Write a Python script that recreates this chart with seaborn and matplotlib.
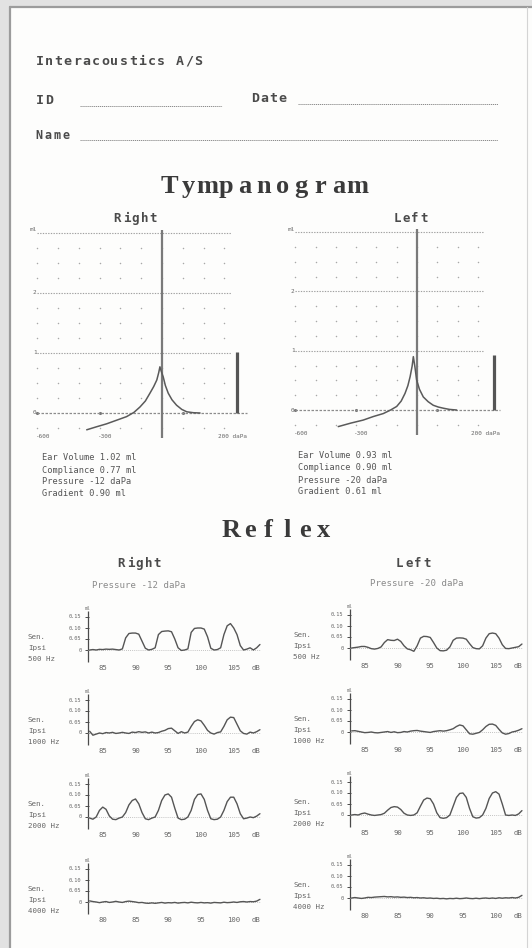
import numpy as np
import matplotlib.pyplot as plt
from matplotlib.patches import Rectangle
from matplotlib.lines import Line2D
import seaborn as sns

sns.set_style("white")
plt.rcParams['font.family'] = ['DejaVu Sans Mono', 'DejaVu Sans']

# ---------------- data ----------------
# tympanogram curves: pressure (daPa) / compliance (ml)
tymp_right_p = [-362, -315, -266, -218, -170, -135, -106, -80, -58, -40, -25, -16, -10, -4, 6, 16, 30, 48, 70, 95, 119, 150, 183]
tymp_right_c = [-0.28, -0.23, -0.18, -0.12, -0.06, 0.01, 0.10, 0.20, 0.33, 0.44, 0.55, 0.67, 0.77, 0.70, 0.60, 0.46, 0.33, 0.22, 0.13, 0.06, 0.02, 0.005, 0.0]
tymp_left_p = [-388, -325, -265, -215, -166, -130, -100, -78, -59, -45, -34, -24, -18, -10, -2, 12, 31, 55, 80, 105, 130, 160, 195]
tymp_left_c = [-0.28, -0.22, -0.17, -0.11, -0.06, 0.0, 0.06, 0.15, 0.28, 0.41, 0.56, 0.74, 0.90, 0.72, 0.51, 0.35, 0.22, 0.14, 0.08, 0.05, 0.03, 0.01, 0.0]
ear_volume = [1.02, 0.93]          # right, left (ml)

info_right = ["Ear Volume 1.02 ml", "Compliance 0.77 ml", "Pressure -12 daPa", "Gradient 0.90 ml"]
info_left = ["Ear Volume 0.93 ml", "Compliance 0.90 ml", "Pressure -20 daPa", "Gradient 0.61 ml"]
reflex_pressure = ["Pressure -12 daPa", "Pressure -20 daPa"]

tymp_xlabels = ["-600", "-300", "200 daPa"]
tymp_ylabels = ["0", "1", "2", "ml"]

freqs = ["500 Hz", "1000 Hz", "2000 Hz", "4000 Hz"]
levels_low = ["85", "90", "95", "100", "105", "dB"]
levels_4k = ["80", "85", "90", "95", "100", "dB"]
reflex_yticks = [0, 0.05, 0.10, 0.15]
reflex_yticklabels = ["0", "0.05", "0.10", "0.15"]

# reflex traces (ml), sampled every 0.1 of a stimulus slot from 0.1 to 5.3
r500 = [0.0, 0.002, 0.0, 0.003, 0.002, 0.004, 0.003, 0.004, 0.002, 0.0,
        0.005, 0.055, 0.075, 0.077, 0.077, 0.072, 0.04, 0.008, 0.0, 0.003,
        0.01, 0.07, 0.084, 0.086, 0.087, 0.083, 0.05, 0.01, -0.002, 0.0,
        0.005, 0.08, 0.098, 0.1, 0.1, 0.095, 0.06, 0.008, 0.0, 0.002,
        0.01, 0.07, 0.11, 0.12, 0.1, 0.07, 0.02, 0.0, 0.004, 0.01,
        0.0, 0.01, 0.025]
r1000 = [0.008, -0.01, -0.005, 0.0, -0.003, 0.002, 0.0, 0.003, -0.002, 0.0,
         0.003, 0.0, -0.002, 0.004, 0.002, 0.006, 0.003, 0.005, 0.0, 0.004,
         0.0, 0.002, 0.008, 0.012, 0.02, 0.022, 0.01, -0.002, 0.006, 0.0,
         0.004, 0.03, 0.052, 0.06, 0.055, 0.035, 0.012, 0.0, -0.005, 0.002,
         0.005, 0.03, 0.06, 0.072, 0.07, 0.04, 0.01, -0.002, -0.005, 0.004,
         0.0, 0.006, 0.015]
r2000 = [-0.005, -0.01, 0.0, 0.03, 0.045, 0.035, 0.005, -0.01, -0.012, -0.005,
         0.0, 0.02, 0.055, 0.075, 0.082, 0.06, 0.02, -0.008, -0.012, -0.005,
         0.0, 0.03, 0.075, 0.1, 0.105, 0.09, 0.04, -0.005, -0.012, -0.01,
         0.0, 0.03, 0.08, 0.102, 0.105, 0.08, 0.03, -0.008, -0.012, -0.01,
         0.0, 0.03, 0.07, 0.09, 0.09, 0.06, 0.015, -0.008, -0.005, 0.0,
         -0.003, 0.004, 0.015]
r4000 = [0.005, 0.002, 0.0, -0.003, 0.0, 0.002, -0.002, 0.0, 0.003, 0.0,
         -0.002, 0.002, 0.004, 0.002, 0.0, -0.003, -0.002, -0.005, -0.006, -0.004,
         -0.006, -0.004, -0.002, -0.005, -0.003, -0.004, -0.002, -0.005, -0.003, -0.002,
         -0.004, -0.001, -0.003, -0.004, -0.002, -0.004, -0.003, -0.005, -0.002, -0.003,
         -0.004, -0.001, -0.003, -0.002, 0.0, -0.002, 0.001, 0.002, 0.0, 0.002,
         0.001, 0.004, 0.012]
l500 = [0.0, 0.002, 0.004, 0.007, 0.007, 0.003, -0.003, -0.005, -0.002, 0.005,
        0.025, 0.038, 0.035, 0.034, 0.04, 0.03, 0.01, -0.004, -0.008, -0.015,
        0.01, 0.045, 0.053, 0.052, 0.048, 0.025, 0.0, -0.012, -0.013, -0.01,
        0.005, 0.035, 0.045, 0.046, 0.045, 0.04, 0.02, 0.002, -0.003, -0.004,
        0.01, 0.045, 0.065, 0.068, 0.065, 0.045, 0.015, -0.002, -0.003, 0.0,
        0.003, 0.006, 0.018]
l1000 = [0.005, 0.006, 0.003, 0.0, -0.003, -0.002, 0.0, -0.003, -0.004, -0.002,
         0.0, 0.002, -0.002, 0.001, -0.003, -0.002, 0.002, 0.0, 0.004, 0.006,
         0.007, 0.004, 0.002, 0.0, -0.002, 0.002, 0.004, 0.006, 0.004, 0.006,
         0.01, 0.015, 0.025, 0.032, 0.028, 0.01, -0.008, -0.01, -0.006, -0.002,
         0.01, 0.025, 0.035, 0.036, 0.03, 0.012, -0.004, -0.01, -0.007, 0.0,
         0.003, 0.008, 0.015]
l2000 = [0.0, 0.002, 0.0, 0.006, 0.009, 0.004, 0.0, -0.002, 0.0, 0.002,
         0.008, 0.022, 0.034, 0.038, 0.036, 0.025, 0.008, 0.0, -0.002, 0.0,
         0.01, 0.04, 0.068, 0.077, 0.074, 0.05, 0.01, -0.012, -0.015, -0.012,
         0.0, 0.04, 0.08, 0.098, 0.1, 0.08, 0.03, -0.008, -0.014, -0.012,
         0.0, 0.03, 0.075, 0.1, 0.106, 0.095, 0.05, 0.0, -0.002, 0.0,
         -0.002, 0.005, 0.02]
l4000 = [0.0, 0.002, 0.0, -0.002, 0.0, 0.003, 0.002, 0.004, 0.005, 0.006,
         0.007, 0.005, 0.006, 0.004, 0.005, 0.003, 0.004, 0.002, 0.003, 0.001,
         0.002, 0.0, 0.001, -0.001, 0.0, -0.002, -0.001, -0.003, -0.002, -0.004,
         -0.002, -0.003, -0.001, -0.003, -0.002, 0.0, -0.002, -0.003, -0.001, -0.003,
         -0.001, 0.0, -0.002, 0.0, -0.002, 0.001, -0.001, 0.001, 0.0, 0.002,
         0.0, 0.003, 0.012]
reflex_right = [r500, r1000, r2000, r4000]
reflex_left = [l500, l1000, l2000, l4000]
seg_x = np.round(np.arange(1, 54) * 0.1, 1)

# ---------------- page ----------------
W, H = 532, 948
INK = '#4a4a4a'
LIGHT = '#9a9a9a'

fig = plt.figure(figsize=(W / 100, H / 100), dpi=100, facecolor='#e2e2e2')


def fx(px):
    return px / W


def fy(py):
    return 1 - py / H


def box(l, t, r, b):
    return [l / W, 1 - b / H, (r - l) / W, (b - t) / H]


def spaced(x, y, s, pitch, **kw):
    # printer-style text: one character per fixed cell
    for i, ch in enumerate(s):
        fig.text(fx(x + i * pitch + pitch / 2), fy(y), ch, ha='center', va='baseline', **kw)


fig.add_artist(Rectangle((fx(10), 0), 1 - fx(10), fy(7), transform=fig.transFigure,
                         facecolor='#fdfdfc', edgecolor='none', zorder=-5))
fig.add_artist(Line2D([fx(10), fx(10)], [0, fy(7)], color='#9c9c9c', lw=1.6))
fig.add_artist(Line2D([fx(10), 1], [fy(7), fy(7)], color='#9c9c9c', lw=1.6))
fig.add_artist(Line2D([fx(527), fx(527)], [0, fy(7)], color='#d4d4d4', lw=0.8))

# header
hdr = dict(fontsize=9.5, fontweight='bold', color=INK, family='DejaVu Sans Mono')
spaced(35, 65, "Interacoustics A/S", 9.33, **hdr)
spaced(35, 104, "ID", 9.33, **hdr)
spaced(250, 102, "Date", 9.33, **hdr)
spaced(35, 139, "Name", 8.8, fontsize=8.5, fontweight='bold', color=INK, family='DejaVu Sans Mono')
for x0, x1, y in [(80, 222, 106), (298, 498, 104), (80, 498, 140)]:
    fig.add_artist(Line2D([fx(x0), fx(x1)], [fy(y), fy(y)], color='#8a8a8a', lw=0.7, ls=(0, (1.2, 0.8))))

title = dict(fontsize=19, color='#3a3a3a', family='Liberation Serif', fontweight='bold')
spaced(160, 193, "Tympanogram", 18.8, **title)
spaced(222, 537, "Reflex", 18.5, **title)

sub = dict(fontsize=9, fontweight='bold', color=INK, family='DejaVu Sans Mono')
spaced(113, 222, "Right", 9.0, **sub)
spaced(393, 222, "Left", 8.8, **sub)
spaced(117, 567, "Right", 9.0, **sub)
spaced(395, 567, "Left", 9.2, **sub)

fig.text(fx(139), fy(586), reflex_pressure[0], ha='center', va='center', fontsize=6.6, color='#8a8a8a')
fig.text(fx(417), fy(584), reflex_pressure[1], ha='center', va='center', fontsize=6.6, color='#8a8a8a')

# ---------------- tympanograms ----------------
tymp_sides = [
    # zero px, px per daPa, zero py, px per ml, box, curve, info
    (162, 0.208, 413, 60.0, (30, 222, 255, 445), tymp_right_p, tymp_right_c, ear_volume[0], 360, info_right, 42, 458),
    (417, 0.203, 410, 59.3, (285, 222, 520, 445), tymp_left_p, tymp_left_c, ear_volume[1], 379, info_left, 298, 456),
]
grid_cols = np.arange(-600, 301, 100)
grid_rows = [-0.25, 0.25, 0.5, 0.75, 1.25, 1.5, 1.75, 2.25, 2.5, 2.75]

for (x0, sx, y0, sy, (l, t, r, b), pp, cc, ev, bar_x, info, ix, iy) in tymp_sides:
    ax = fig.add_axes(box(l, t, r, b))
    ax.set_xlim((l - x0) / sx, (r - x0) / sx)
    ax.set_ylim((y0 - b) / sy, (y0 - t) / sy)
    ax.set_axis_off()

    for row in grid_rows:
        ax.scatter(grid_cols, [row] * len(grid_cols), s=1.2, color='#a8a8a8', linewidths=0)
    ax.hlines([1, 2, 3], -600, 330, colors='#a0a0a0', lw=0.8, linestyles=[(0, (1.2, 1.2))])
    ax.hlines(0, -600, 410, colors='#8c8c8c', lw=0.9, linestyles=[(0, (2.0, 1.2))])
    ax.scatter([-600, -300, 100], [0, 0, 0], s=5, color='#777777', linewidths=0)
    ax.vlines(0, -0.42, 3.05, colors='#7a7a7a', lw=1.6)
    sns.lineplot(x=pp, y=cc, ax=ax, color='#5a5a5a', lw=1.1, sort=False, estimator=None)
    ax.vlines(bar_x, 0, ev, colors='#555555', lw=2.3)

    for val, lab in zip([0, 1, 2, 3.05], tymp_ylabels):
        ax.text(-603, val, lab, ha='right', va='center', fontsize=4.3, color='#666666')
    for xv, lab in zip([-605, -310, 268], tymp_xlabels):
        ax.text(xv, -0.40, lab, ha='left', va='center', fontsize=4.3, color='#666666')

    for k, line in enumerate(info):
        fig.text(fx(ix), fy(iy + k * 12), line, ha='left', va='center', fontsize=6.2, color='#555555')

# ---------------- reflex panels ----------------
SEG = 32.75       # px per stimulus slot
SY = 220.0        # px per ml
columns = [(88, 28, [650, 733, 817, 902], reflex_right),
           (350, 293, [648, 732, 815, 898], reflex_left)]

for spine, lab_x, zeros, traces in columns:
    for k, (zp, trace) in enumerate(zip(zeros, traces)):
        l, r = spine - 8, spine + 185
        t, b = zp - 45, zp + 25
        ax = fig.add_axes(box(l, t, r, b))
        ax.set_xlim(0.05 - 8 / SEG, 0.05 + 185 / SEG)
        ax.set_ylim(-25 / SY, 45 / SY)
        ax.set_axis_off()

        ax.vlines(0.05, -0.055, 0.178, colors=INK, lw=0.9)
        ax.hlines(reflex_yticks, 0.05 - 0.09, 0.05 + 0.04, colors=INK, lw=0.7)
        for yv, yl in zip(reflex_yticks, reflex_yticklabels):
            ax.text(0.05 - 0.2, yv, yl, ha='right', va='center', fontsize=3.8, color='#666666')
        ax.text(0.05, 0.19, "ml", ha='center', va='center', fontsize=3.5, color='#777777')
        ax.hlines(0, 0.05, 5.3, colors='#b0b0b0', lw=0.6, linestyles=[(0, (1, 1.5))])
        sns.lineplot(x=seg_x, y=trace, ax=ax, color='#555555', lw=1.0, sort=False, estimator=None)

        labs = levels_4k if k == 3 else levels_low
        for pos, lv in zip([0.5, 1.5, 2.5, 3.5, 4.5, 5.17], labs):
            ax.text(pos, -0.08, lv, ha='center', va='center', fontsize=5.2, color='#666666')

        for j, s in enumerate(["Sen.", "Ipsi", freqs[k]]):
            fig.text(fx(lab_x), fy(zp - 13 + j * 11), s, ha='left', va='center', fontsize=5.4, color='#666666')

fig.savefig("out.png", dpi=100, facecolor=fig.get_facecolor())
